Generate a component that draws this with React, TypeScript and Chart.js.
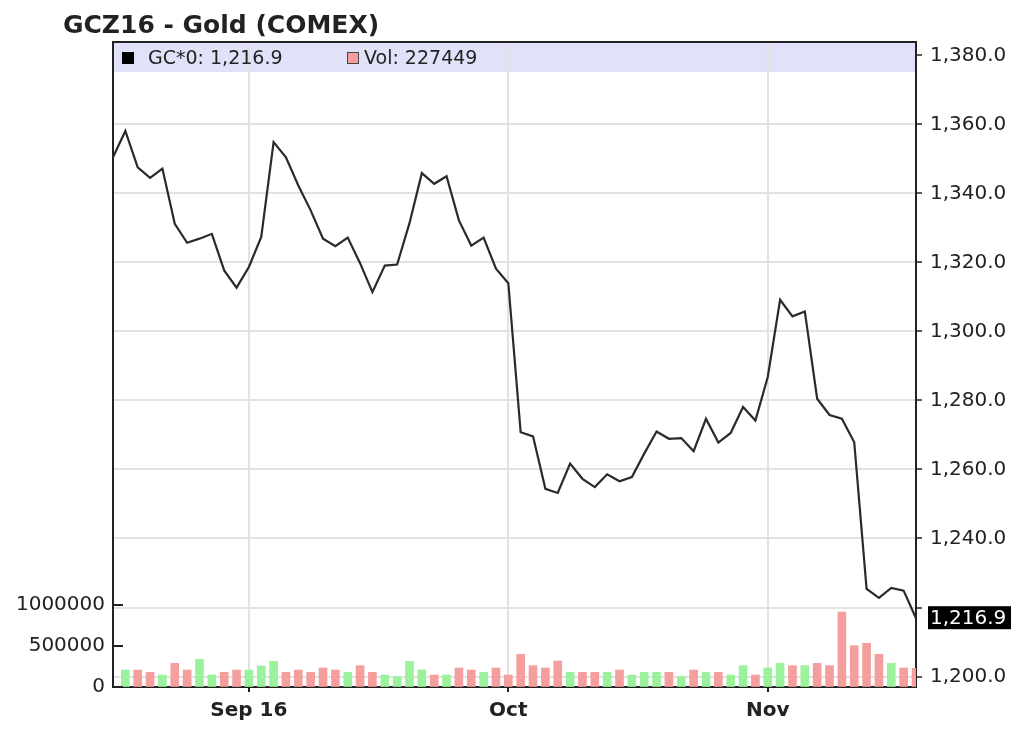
import React, { useEffect, useRef } from "react";
import { Chart, registerables } from "chart.js";

Chart.register(...registerables);

const chartTitle = "GCZ16 - Gold (COMEX)";
const priceSymbol = "GC*0";

const dates = [
  "Aug 17", "Aug 18", "Aug 19", "Aug 22", "Aug 23", "Aug 24", "Aug 25", "Aug 26", "Aug 29", "Aug 30", "Aug 31",
  "Sep 1", "Sep 2", "Sep 6", "Sep 7", "Sep 8", "Sep 9", "Sep 12", "Sep 13", "Sep 14", "Sep 15", "Sep 16",
  "Sep 19", "Sep 20", "Sep 21", "Sep 22", "Sep 23", "Sep 26", "Sep 27", "Sep 28", "Sep 29", "Sep 30",
  "Oct 3", "Oct 4", "Oct 5", "Oct 6", "Oct 7", "Oct 10", "Oct 11", "Oct 12", "Oct 13", "Oct 14",
  "Oct 17", "Oct 18", "Oct 19", "Oct 20", "Oct 21", "Oct 24", "Oct 25", "Oct 26", "Oct 27", "Oct 28", "Oct 31",
  "Nov 1", "Nov 2", "Nov 3", "Nov 4", "Nov 7", "Nov 8", "Nov 9", "Nov 10", "Nov 11", "Nov 14", "Nov 15", "Nov 16", "Nov 17",
];

const prices = [
  1350.5, 1358.1, 1347.6, 1344.5, 1347.2, 1331.2, 1325.7, 1326.9, 1328.3, 1317.7, 1312.7,
  1318.7, 1327.4, 1354.9, 1350.5, 1342.3, 1335.1, 1326.9, 1324.7, 1327.2, 1319.8, 1311.4,
  1319.1, 1319.4, 1331.4, 1345.9, 1342.8, 1345.0, 1332.2, 1324.9, 1327.2, 1318.2,
  1314.0, 1270.8, 1269.6, 1254.4, 1253.2, 1261.7, 1257.3, 1254.9, 1258.6, 1256.6,
  1257.8, 1264.6, 1271.0, 1268.9, 1269.1, 1265.3, 1274.7, 1267.8, 1270.6, 1278.1, 1274.2,
  1286.8, 1309.2, 1304.4, 1305.8, 1280.5, 1275.8, 1274.7, 1267.9, 1225.4, 1222.8, 1225.7, 1224.9, 1216.9,
];

const volumes = [
  null, 207000, 207000, 179000, 146000, 289000, 207000, 338000, 146000, 179000, 207000,
  207000, 256000, 313000, 179000, 207000, 179000, 232000, 207000, 179000, 260000, 179000,
  146000, 126000, 313000, 207000, 146000, 146000, 232000, 207000, 179000, 232000,
  146000, 399000, 260000, 232000, 317000, 179000, 179000, 179000, 179000, 207000,
  146000, 179000, 179000, 179000, 126000, 207000, 179000, 179000, 146000, 260000, 146000,
  232000, 289000, 260000, 260000, 289000, 260000, 915000, 504000, 533000, 399000, 289000, 232000, 227449,
];

const xTickDates = ["Sep 1", "Oct 3", "Nov 1"];
const xTickLabels = ["Sep 16", "Oct", "Nov"];
const volTicks = [0, 500000, 1000000];
const priceMin = 1196.96;
const priceMax = 1383.9;
const priceStep = 20;
const volMax = 7866000;

const FONT = "DejaVu Sans";
const INK = "#222222";
const GRID = "#e2e2e2";
const UP = "#9cf29c";
const DOWN = "#f59e9e";
const BAND = "#e1e1fa";

const lastPrice = prices[prices.length - 1];
const lastVol = volumes[volumes.length - 1] as number;

const fmtPrice = (v: number) =>
  v.toLocaleString("en-US", { minimumFractionDigits: 1, maximumFractionDigits: 1 });

const volColors = volumes.map((_, i) => (i > 0 && prices[i] >= prices[i - 1] ? UP : DOWN));

const decor = {
  id: "decor",
  beforeDraw(chart: any) {
    const { ctx, chartArea: a } = chart;
    ctx.save();
    ctx.fillStyle = BAND;
    ctx.fillRect(a.left, a.top, a.right - a.left, 30);
    ctx.restore();
  },
  afterDraw(chart: any) {
    const { ctx, chartArea: a } = chart;
    ctx.save();
    // title
    ctx.fillStyle = INK;
    ctx.font = `bold 25px "${FONT}"`;
    ctx.textBaseline = "alphabetic";
    ctx.textAlign = "left";
    ctx.fillText(chartTitle, 63, 33);
    // top frame
    ctx.strokeStyle = INK;
    ctx.lineWidth = 2;
    ctx.beginPath();
    ctx.moveTo(a.left, a.top);
    ctx.lineTo(a.right, a.top);
    ctx.stroke();
    // inward volume ticks
    const sv = chart.scales.yVol;
    ctx.beginPath();
    volTicks.forEach((v) => {
      const py = Math.round(sv.getPixelForValue(v));
      ctx.moveTo(a.left, py);
      ctx.lineTo(a.left + 10, py);
    });
    ctx.stroke();
    // legend
    ctx.font = `19px "${FONT}"`;
    ctx.textBaseline = "middle";
    ctx.fillStyle = "#000";
    ctx.fillRect(a.left + 9, a.top + 10, 12, 12);
    ctx.fillStyle = INK;
    ctx.fillText(`${priceSymbol}: ${fmtPrice(lastPrice)}`, a.left + 35, a.top + 17);
    ctx.fillStyle = DOWN;
    ctx.fillRect(a.left + 234, a.top + 10, 12, 12);
    ctx.strokeStyle = "#444";
    ctx.lineWidth = 1;
    ctx.strokeRect(a.left + 234.5, a.top + 10.5, 11, 11);
    ctx.fillStyle = INK;
    ctx.fillText(`Vol: ${lastVol}`, a.left + 251, a.top + 17);
    // last price box
    const y = chart.scales.y.getPixelForValue(lastPrice);
    ctx.fillStyle = "#000";
    ctx.fillRect(a.right + 12, y - 12, 83, 23);
    ctx.fillStyle = "#fff";
    ctx.font = `20px "${FONT}"`;
    ctx.fillText(fmtPrice(lastPrice), a.right + 14, y + 0.5);
    ctx.restore();
  },
};

export default function App() {
  const ref = useRef<HTMLCanvasElement>(null);

  useEffect(() => {
    if (!ref.current) return;
    Chart.defaults.font.family = FONT;
    const chart = new Chart(ref.current, {
      type: "line",
      data: {
        labels: dates,
        datasets: [
          {
            type: "line",
            data: prices,
            yAxisID: "y",
            borderColor: "#2a2a2a",
            borderWidth: 2.2,
            pointRadius: 0,
            tension: 0,
            order: 0,
          } as any,
          {
            type: "bar",
            data: volumes,
            yAxisID: "yVol",
            backgroundColor: volColors,
            barThickness: 8,
            order: 1,
          } as any,
        ],
      },
      options: {
        animation: false,
        responsive: false,
        events: [],
        layout: { padding: { top: 42, left: 0, right: 0, bottom: 0 } },
        plugins: { legend: { display: false }, tooltip: { enabled: false }, title: { display: false } },
        scales: {
          x: {
            type: "category",
            offset: false,
            grid: { offset: false, color: GRID, lineWidth: 2, tickLength: 5, tickColor: INK, tickWidth: 2 },
            border: { color: INK, width: 2 },
            ticks: {
              autoSkip: false,
              maxRotation: 0,
              padding: 7,
              color: INK,
              font: { size: 20, weight: "bold" },
              callback: (v: any) => {
                const i = xTickDates.indexOf(dates[v]);
                return i >= 0 ? xTickLabels[i] : "";
              },
            },
            afterBuildTicks: (s: any) => {
              s.ticks = s.ticks.filter((t: any) => xTickDates.includes(dates[t.value]));
            },
            afterFit: (s: any) => {
              s.height = 59;
            },
          },
          y: {
            position: "right",
            min: priceMin,
            max: priceMax,
            grid: {
              color: (c: any) => (c.tick && c.tick.value >= 1380 ? "rgba(0,0,0,0)" : GRID),
              lineWidth: 2,
              tickLength: 6,
              tickColor: INK,
              tickWidth: 1.5,
            },
            border: { color: INK, width: 2 },
            ticks: {
              stepSize: priceStep,
              includeBounds: false,
              padding: 8,
              color: INK,
              font: { size: 20 },
              callback: (v: any) => (Math.abs(v - lastPrice) < 10 ? "" : fmtPrice(v)),
            },
            afterFit: (s: any) => {
              s.width = 108;
            },
          },
          yVol: {
            position: "left",
            min: 0,
            max: volMax,
            grid: { display: true, drawOnChartArea: false, drawTicks: false },
            border: { color: INK, width: 2 },
            ticks: {
              padding: 8,
              color: INK,
              font: { size: 20 },
              callback: (v: any) => String(v),
            },
            afterBuildTicks: (s: any) => {
              s.ticks = volTicks.map((v) => ({ value: v }));
            },
            afterFit: (s: any) => {
              s.width = 113;
            },
          },
        },
      } as any,
      plugins: [decor],
    });
    return () => chart.destroy();
  }, []);

  return (
    <div style={{ position: "fixed", left: 0, top: 0, width: 1024, height: 746, background: "#fff" }}>
      <canvas ref={ref} width={1024} height={746} style={{ width: 1024, height: 746 }} />
    </div>
  );
}
